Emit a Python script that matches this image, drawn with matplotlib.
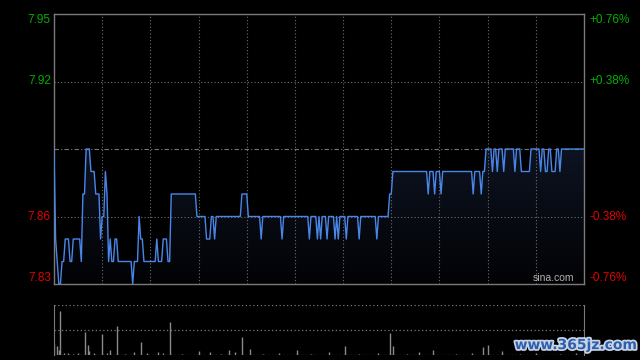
import numpy as np
import matplotlib.pyplot as plt
import matplotlib.patheffects as pe
from matplotlib.transforms import blended_transform_factory

plt.rcParams['font.family'] = ['Liberation Sans', 'DejaVu Sans']

PREV_CLOSE = 7.89
PRICE_TICKS = [7.95, 7.92, 7.86, 7.83]
PCT_LABELS = ['+0.76%', '+0.38%', '-0.38%', '-0.76%']

# (price, number of minutes at that price), 9:30 -> 16:00
price_runs = [
    (7.89, 1), (7.85, 1), (7.84, 1), (7.83, 2), (7.84, 2), (7.85, 3), (7.84, 2),
    (7.85, 5), (7.84, 1), (7.87, 2), (7.89, 3), (7.88, 3), (7.87, 3), (7.85, 1),
    (7.86, 2), (7.88, 1), (7.87, 1), (7.84, 1), (7.85, 1), (7.84, 2), (7.85, 2),
    (7.84, 9), (7.83, 1), (7.84, 3), (7.86, 1), (7.85, 2), (7.84, 8), (7.85, 1),
    (7.84, 3), (7.85, 3), (7.84, 2), (7.87, 16), (7.86, 6), (7.85, 3), (7.86, 2),
    (7.85, 1), (7.86, 16), (7.87, 4), (7.86, 8), (7.85, 1), (7.86, 12), (7.85, 1),
    (7.86, 16), (7.85, 1), (7.86, 4), (7.85, 1), (7.86, 1), (7.85, 1), (7.86, 3),
    (7.85, 1), (7.86, 4), (7.85, 1), (7.86, 1), (7.85, 1), (7.86, 4), (7.85, 1),
    (7.86, 7), (7.85, 1), (7.86, 10), (7.85, 1), (7.86, 7), (7.87, 2), (7.88, 22),
    (7.87, 1), (7.88, 3), (7.87, 1), (7.88, 3), (7.87, 1), (7.88, 19), (7.87, 1),
    (7.88, 4), (7.87, 1), (7.88, 2), (7.89, 4), (7.88, 1), (7.89, 2), (7.88, 1),
    (7.89, 3), (7.88, 1), (7.89, 6), (7.88, 1), (7.89, 3), (7.88, 6), (7.89, 6),
    (7.88, 1), (7.89, 2), (7.88, 2), (7.89, 2), (7.88, 3), (7.89, 2), (7.88, 1),
    (7.89, 15),
]

vol_minutes = [0, 2, 3, 4, 6, 9, 12, 15, 19, 21, 22, 25, 30, 33, 35, 39, 44, 50,
               54, 58, 65, 68, 72, 80, 90, 97, 104, 109, 113, 117, 122, 130, 140,
               151, 160, 171, 181, 190, 202, 209, 211, 220, 227, 236, 250, 260,
               267, 270, 279, 290, 300, 315, 325]
vol_values = [11, 9, 5, 44, 2, 2, 1, 2, 23, 10, 4, 2, 21, 2, 5, 29, 1, 3,
              13, 2, 3, 2, 33, 1, 4, 3, 1, 5, 3, 18, 6, 1, 2,
              5, 1, 3, 9, 1, 2, 22, 9, 1, 3, 5, 1, 2,
              8, 10, 4, 1, 2, 1, 2]

prices = np.concatenate([np.full(n, p) for p, n in price_runs])
minutes = np.arange(len(prices))

fig = plt.figure(figsize=(6.4, 3.6), dpi=100, facecolor='black')
ax = fig.add_axes([54 / 640, 76 / 360, 530 / 640, 270 / 360], facecolor='black')

# gradient fill under the price line
poly = ax.fill_between(minutes, prices, PRICE_TICKS[-1], color='none', lw=0)
top_c = np.array([0.05, 0.075, 0.13])
bot_c = np.array([0.01, 0.01, 0.02])
t = np.linspace(0, 1, 256).reshape(-1, 1, 1)
rgb = top_c * (1 - t) + bot_c * t
img = ax.imshow(rgb, extent=[0, 330, 7.83, 7.89], aspect='auto', origin='upper', zorder=1)
img.set_clip_path(poly.get_paths()[0], transform=ax.transData)

ax.plot(minutes, prices, color='#4a86e8', lw=1.0, zorder=3)

grid_kw = dict(color='#6e6e6e', lw=0.8, ls=(0, (1, 2)), zorder=2)
for y in [7.92, 7.86]:
    ax.axhline(y, **grid_kw)
for x in range(30, 330, 30):
    ax.axvline(x, **grid_kw)
ax.axhline(PREV_CLOSE, color='#777777', lw=0.8, ls=(0, (4, 2, 1, 2)), zorder=2)

ax.set_xlim(0, 330)
ax.set_ylim(7.83, 7.95)
ax.set_xticks([])
ax.set_yticks([])
for s in ax.spines.values():
    s.set_color('#7a7a7a')
    s.set_linewidth(1)

tr = blended_transform_factory(ax.transAxes, ax.transData)
vas = ['top', 'center', 'center', 'bottom']
for p, pct, va in zip(PRICE_TICKS, PCT_LABELS, vas):
    col = '#00b000' if p > PREV_CLOSE else '#e00000'
    ax.text(-0.006, p, f'{p:.2f}', transform=tr, ha='right', va=va,
            color=col, fontsize=8.5)
    ax.text(1.011, p, pct, transform=tr, ha='left', va=va,
            color=col, fontsize=8.5)

ax.text(0.982, 0.005, 'sina.com', transform=ax.transAxes, ha='right', va='bottom',
        color='#b0b0b0', fontsize=7.5)

# volume panel
vax = fig.add_axes([54 / 640, 5 / 360, 530 / 640, 50 / 360], facecolor='black')
vax.vlines(vol_minutes, 0, vol_values, color='#8a8a8a', lw=1)
vkw = dict(color='#7a7a7a', lw=0.9, ls=(0, (1, 2)))
for y in [50, 25, 0.3]:
    vax.axhline(y, **vkw)
vax.set_xlim(0, 330)
vax.set_ylim(0, 50)
vax.set_xticks([])
vax.set_yticks([])
vax.spines['top'].set_visible(False)
vax.spines['bottom'].set_visible(False)
for side in ['left', 'right']:
    vax.spines[side].set_color('#7a7a7a')

fig.text(0.995, 0.022, 'www.365jz.com', ha='right', va='bottom', color='#2e5fae',
         fontsize=10, fontweight='bold', family='DejaVu Sans',
         path_effects=[pe.withStroke(linewidth=2.5, foreground='#c8d4e6')])

fig.savefig('out.png', dpi=100, facecolor='black')
